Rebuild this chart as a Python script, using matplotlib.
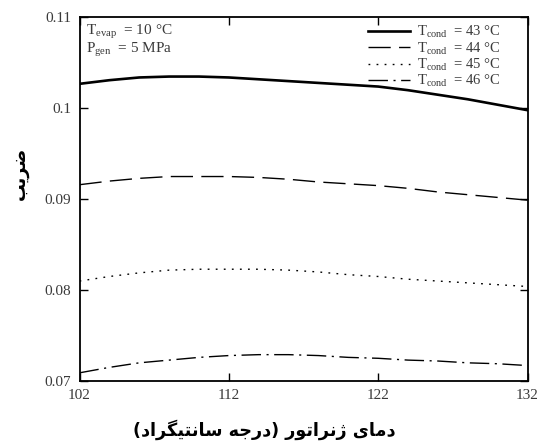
import numpy as np
import matplotlib
matplotlib.use("Agg")
import matplotlib.pyplot as plt

plt.rcParams['font.family'] = ['Liberation Serif', 'DejaVu Serif']
plt.rcParams['mathtext.fontset'] = 'custom'
plt.rcParams['mathtext.rm'] = 'Liberation Serif'
plt.rcParams['mathtext.it'] = 'Liberation Serif:italic'

# generator temperature (C)
t_gen = [102, 104, 106, 108, 110, 112, 114, 116, 118, 120, 122, 124, 126, 128, 130, 132]
cop_43 = [0.1027, 0.1031, 0.1034, 0.1035, 0.1035, 0.1034, 0.1032, 0.1030, 0.1028, 0.1026,
          0.1024, 0.1020, 0.1015, 0.1010, 0.1004, 0.0998]
cop_44 = [0.0916, 0.0920, 0.0923, 0.0925, 0.0925, 0.0925, 0.0924, 0.0922, 0.0919, 0.0917,
          0.0915, 0.0912, 0.0908, 0.0905, 0.0902, 0.0899]
cop_45 = [0.0810, 0.0815, 0.0819, 0.0822, 0.0823, 0.0823, 0.0823, 0.0822, 0.0820, 0.0817,
          0.0815, 0.0812, 0.0810, 0.0808, 0.0806, 0.0804]
cop_46 = [0.0709, 0.0715, 0.0720, 0.0723, 0.0726, 0.0728, 0.0729, 0.0729, 0.0728, 0.0726,
          0.0725, 0.0723, 0.0722, 0.0720, 0.0719, 0.0717]
labels = [r'T$_{\rm cond}$  = 43 °C', r'T$_{\rm cond}$  = 44 °C',
          r'T$_{\rm cond}$  = 45 °C', r'T$_{\rm cond}$  = 46 °C']
xticks = [102, 112, 122, 132]
yticks = [0.07, 0.08, 0.09, 0.1, 0.11]
xlabel = 'دمای ژنراتور (درجه سانتیگراد)'
ylabel = 'ضریب'

# minimal arabic/persian shaping (matplotlib has no shaper)
forms = {
    'ا': ('\uFE8D', '\uFE8E', None, None),
    'د': ('\uFEA9', '\uFEAA', None, None),
    'ر': ('\uFEAD', '\uFEAE', None, None),
    'ژ': ('\uFB8A', '\uFB8B', None, None),
    'و': ('\uFEED', '\uFEEE', None, None),
    'ب': ('\uFE8F', '\uFE90', '\uFE91', '\uFE92'),
    'ت': ('\uFE95', '\uFE96', '\uFE97', '\uFE98'),
    'ج': ('\uFE9D', '\uFE9E', '\uFE9F', '\uFEA0'),
    'س': ('\uFEB1', '\uFEB2', '\uFEB3', '\uFEB4'),
    'ض': ('\uFEBD', '\uFEBE', '\uFEBF', '\uFEC0'),
    'گ': ('\uFB92', '\uFB93', '\uFB94', '\uFB95'),
    'م': ('\uFEE1', '\uFEE2', '\uFEE3', '\uFEE4'),
    'ن': ('\uFEE5', '\uFEE6', '\uFEE7', '\uFEE8'),
    'ه': ('\uFEE9', '\uFEEA', '\uFEEB', '\uFEEC'),
    'ی': ('\uFBFC', '\uFBFD', '\uFBFE', '\uFBFF'),
}

def shape(s):
    out = []
    for i, c in enumerate(s):
        if c not in forms:
            out.append(c)
            continue
        f = forms[c]
        prev = s[i-1] if i > 0 else ''
        nxt = s[i+1] if i+1 < len(s) else ''
        jp = prev in forms and forms[prev][2] is not None
        jn = nxt in forms and f[2] is not None
        if jp and jn:
            out.append(f[3])
        elif jp:
            out.append(f[1])
        elif jn:
            out.append(f[2])
        else:
            out.append(f[0])
    vis = ''.join(out)[::-1]
    return vis.translate(str.maketrans('()', ')('))

fig = plt.figure(figsize=(5.39, 4.45), dpi=100)
ax = fig.add_axes([0.1475, 0.1438, 0.8312, 0.8169])

ax.plot(t_gen, cop_43, color='black', lw=1.9, ls='-', label=labels[0])
ax.plot(t_gen, cop_44, color='black', lw=1.0, ls=(0, (16, 6)), label=labels[1])
ax.plot(t_gen, cop_45, color='black', lw=1.0, ls=(0, (1.3, 4.5)), label=labels[2])
ax.plot(t_gen, cop_46, color='black', lw=1.0, ls=(0, (14, 4, 1.5, 4)), label=labels[3])

ax.set_xlim(102, 132)
ax.set_ylim(0.07, 0.11)
ax.set_xticks(xticks)
ax.set_yticks(yticks)
ax.set_yticklabels(['0.07', '0.08', '0.09', '0.1', '0.11'])
ax.tick_params(direction='in', length=6, width=1, top=True, right=True,
               labelsize=11, labelcolor='#3a3a3a', pad=6)
for sp in ax.spines.values():
    sp.set_linewidth(1.3)

leg = ax.legend(loc='upper right', frameon=False, fontsize=10.5, handlelength=2.9,
                labelspacing=0.02, borderaxespad=0.0, borderpad=0.45, handletextpad=0.5,
                bbox_to_anchor=(0.955, 1.0))
for t in leg.get_texts():
    t.set_color('#3a3a3a')

ax.text(0.015, 0.985, 'T$_{\\rm evap}$  = 10 °C\nP$_{\\rm gen}$  = 5 MPa', transform=ax.transAxes,
        ha='left', va='top', fontsize=11, color='#3a3a3a', linespacing=1.0)

fig.text(0.49, 0.034, shape(xlabel), ha='center', va='center', fontsize=12.7,
         family=['DejaVu Sans'], weight='bold')
fig.text(0.037, 0.61, shape(ylabel), ha='center', va='center', fontsize=12.7,
         family=['DejaVu Sans'], weight='bold', rotation=90)

fig.savefig('out.png', dpi=100)
